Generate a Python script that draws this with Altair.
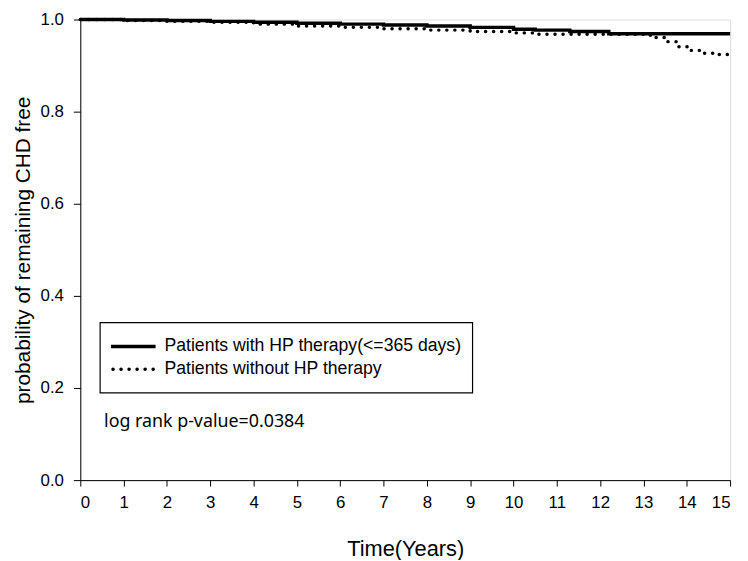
import altair as alt
import pandas as pd

# Kaplan-Meier style step curves
with_years = [0, 1, 2, 3, 4, 5, 6, 7, 8, 9, 10, 10.5, 11.3, 12.2, 15]
with_surv = [1.0, 0.999, 0.998, 0.996, 0.994, 0.992, 0.990, 0.988, 0.986, 0.983, 0.979, 0.977, 0.974, 0.969, 0.969]

without_years = [0, 1, 2, 3, 4, 5, 6, 7, 8, 9, 10, 10.5, 13.0, 13.2, 13.5, 13.8, 14.1, 14.4, 14.7, 15]
without_surv = [1.0, 0.998, 0.996, 0.994, 0.990, 0.986, 0.983, 0.980, 0.977, 0.974, 0.971, 0.968, 0.966, 0.961, 0.952, 0.941, 0.933, 0.927, 0.924, 0.924]

legend_labels = ["Patients with HP therapy(<=365 days)", "Patients without HP therapy"]
pvalue_text = "log rank p-value=0.0384"
x_ticks = list(range(0, 16))
y_ticks = [0.0, 0.2, 0.4, 0.6, 0.8, 1.0]

df_with = pd.DataFrame({"t": with_years, "s": with_surv})
df_without = pd.DataFrame({"t": without_years, "s": without_surv})

W, H = 656, 465
FONT = "Liberation Sans"
DOTS = [0.1, 8]

x_enc = alt.X("t:Q", scale=alt.Scale(domain=[0, 15], nice=False, zero=False),
              axis=alt.Axis(values=x_ticks, title="Time(Years)", grid=False, format="d",
                            tickSize=6, labelPadding=9, titlePadding=28,
                            labelFontSize=17, titleFontSize=22, labelFont=FONT, titleFont=FONT,
                            labelColor="black", titleColor="black", domainColor="black",
                            tickColor="black", titleFontWeight="normal"))
y_enc = alt.Y("s:Q", scale=alt.Scale(domain=[0, 1], nice=False),
              axis=alt.Axis(values=y_ticks, title="probability of remaining CHD free", grid=False,
                            format=".1f", tickSize=7, labelPadding=10, titlePadding=7,
                            labelFontSize=17, titleFontSize=21, labelFont=FONT, titleFont=FONT,
                            labelColor="black", titleColor="black", domainColor="black",
                            tickColor="black", titleFontWeight="normal"))

line_with = alt.Chart(df_with).mark_line(
    interpolate="step-after", color="black", strokeWidth=3.5
).encode(x=x_enc, y=y_enc)

line_without = alt.Chart(df_without).mark_line(
    interpolate="step-after", color="black", strokeWidth=3.5, strokeDash=DOTS, strokeCap="round"
).encode(x="t:Q", y="s:Q")

one = pd.DataFrame({"a": [0]})

# legend box
box = alt.Chart(one).mark_rect(
    fill="white", stroke="black", strokeWidth=1.2
).encode(x=alt.value(20), x2=alt.value(396), y=alt.value(306), y2=alt.value(377))

leg_solid = alt.Chart(one).mark_rule(
    color="black", strokeWidth=3.5
).encode(x=alt.value(31), x2=alt.value(76), y=alt.value(330))

leg_dot = alt.Chart(one).mark_rule(
    color="black", strokeWidth=3.5, strokeDash=DOTS, strokeCap="round"
).encode(x=alt.value(33), x2=alt.value(77), y=alt.value(353))

leg_text1 = alt.Chart(pd.DataFrame({"label": [legend_labels[0]]})).mark_text(
    align="left", baseline="middle", font=FONT, fontSize=17.8, color="black"
).encode(x=alt.value(85), y=alt.value(330), text="label:N")

leg_text2 = alt.Chart(pd.DataFrame({"label": [legend_labels[1]]})).mark_text(
    align="left", baseline="middle", font=FONT, fontSize=17.8, color="black"
).encode(x=alt.value(85), y=alt.value(353), text="label:N")

ptext = alt.Chart(pd.DataFrame({"label": [pvalue_text]})).mark_text(
    align="left", baseline="middle", font="Noto Sans", fontSize=18, color="black"
).encode(x=alt.value(24), y=alt.value(406), text="label:N")

chart = alt.layer(
    line_with, line_without, box, leg_solid, leg_dot, leg_text1, leg_text2, ptext
).properties(
    width=W, height=H,
    autosize=alt.AutoSizeParams(type="none"),
    padding={"left": 73, "top": 9, "right": 10, "bottom": 78},
).configure_view(
    stroke="black", strokeWidth=1.2
).configure(background="white")

chart.save("out.html", embed_options={"renderer": "svg", "actions": False})
